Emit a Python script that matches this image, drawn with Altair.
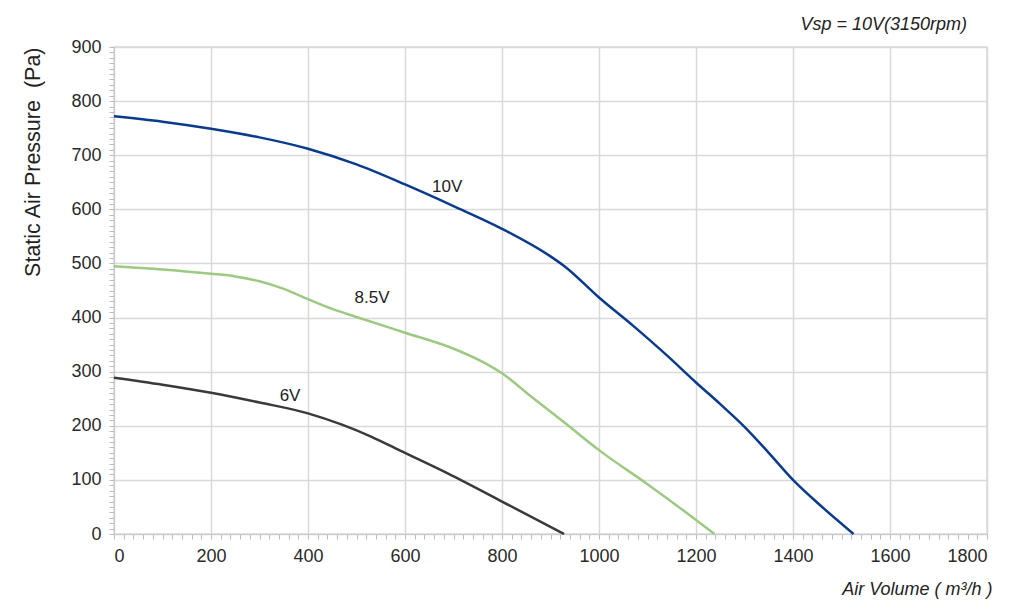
import altair as alt
import pandas as pd

# Series data (Air Volume m3/h, Static Pressure Pa)
v10_x = [0, 100, 200, 300, 400, 500, 600, 700, 800, 900, 930, 1000, 1070, 1140, 1200, 1250, 1300, 1350, 1400, 1460, 1525]
v10_y = [772, 762, 749, 733, 712, 683, 646, 606, 564, 513, 494, 437, 385, 330, 280, 240, 198, 150, 100, 50, 0]

v85_x = [0, 100, 200, 250, 300, 350, 400, 450, 500, 600, 690, 760, 800, 860, 930, 1000, 1100, 1200, 1238]
v85_y = [495, 489, 481, 476, 467, 453, 434, 416, 401, 372, 346, 318, 297, 254, 205, 155, 92, 26, 0]

v6_x = [0, 100, 200, 300, 400, 470, 530, 590, 690, 800, 928]
v6_y = [289, 276, 261, 243, 223, 202, 180, 154, 111, 60, 0]

series_names = ["10V", "8.5V", "6V"]
series_colors = ["#0b3b8c", "#9dc983", "#3a3a3a"]

label_text = ["10V", "8.5V", "6V"]
label_x = [687, 532, 363]
label_y = [641, 436, 255]

x_tick_values = list(range(0, 1801, 20))
y_tick_values = list(range(0, 901, 10))

rows = []
for name, xs, ys in [("10V", v10_x, v10_y), ("8.5V", v85_x, v85_y), ("6V", v6_x, v6_y)]:
    for i, (x, y) in enumerate(zip(xs, ys)):
        rows.append({"series": name, "flow": x, "pressure": y, "order": i})
df = pd.DataFrame(rows)
labels_df = pd.DataFrame({"text": label_text, "flow": label_x, "pressure": label_y})

FONT = "Liberation Sans"
GRID = "#d9d9d9"

x_scale = alt.Scale(domain=[0, 1800], nice=False)
y_scale = alt.Scale(domain=[0, 900], nice=False)

x_axis = alt.Axis(
    title="Air Volume ( m³/h )",
    values=x_tick_values,
    tickCount=500,
    format="d",
    labelExpr="datum.value % 200 === 0 ? datum.label : ''",
    labelOverlap=False,
    labelFontSize=18,
    labelFont=FONT,
    labelColor="#2a2a2a",
    labelPadding=8,
    tickSize=5,
    tickColor="#bbbbbb",
    domainColor="#cccccc",
    grid=True,
    gridColor=GRID,
    gridWidth=1.5,
    gridOpacity={"condition": {"test": "datum.value % 200 === 0", "value": 1}, "value": 0},
    titleFont=FONT,
    titleFontSize=18,
    titleFontStyle="italic",
    titleFontWeight="normal",
    titleColor="#222222",
    titleAlign="right",
    titleX=878,
    titlePadding=15,
)

y_axis = alt.Axis(
    title="Static Air Pressure\u00a0\u00a0(Pa)",
    values=y_tick_values,
    tickCount=500,
    format="d",
    labelExpr="datum.value % 100 === 0 ? datum.label : ''",
    labelOverlap=False,
    labelFontSize=18,
    labelFont=FONT,
    labelColor="#2a2a2a",
    labelPadding=8,
    tickSize=5,
    tickColor="#bbbbbb",
    domainColor="#cccccc",
    grid=True,
    gridColor=GRID,
    gridWidth=1.5,
    gridOpacity={"condition": {"test": "datum.value % 100 === 0", "value": 1}, "value": 0},
    titleFont=FONT,
    titleFontSize=21.5,
    titleFontWeight="normal",
    titleColor="#222222",
    titleAnchor="end",
    titlePadding=26,
)

lines = alt.Chart(df).mark_line(strokeWidth=2.5, interpolate="monotone").encode(
    x=alt.X("flow:Q", scale=x_scale, axis=x_axis),
    y=alt.Y("pressure:Q", scale=y_scale, axis=y_axis),
    color=alt.Color("series:N", scale=alt.Scale(domain=series_names, range=series_colors), legend=None),
    order="order:Q",
)

texts = alt.Chart(labels_df).mark_text(font=FONT, fontSize=17, color="#222222").encode(
    x=alt.X("flow:Q", scale=x_scale),
    y=alt.Y("pressure:Q", scale=y_scale),
    text="text:N",
)

chart = alt.layer(lines, texts).properties(
    width=873,
    height=487,
    padding={"left": 14, "top": 8, "right": 5, "bottom": 5},
    title=alt.TitleParams(
        "Vsp = 10V(3150rpm)",
        anchor="end",
        font=FONT,
        fontSize=18,
        fontStyle="italic",
        fontWeight="normal",
        color="#222222",
        dx=-25,
        offset=4,
    ),
).configure_view(stroke=GRID, strokeWidth=1.5)

chart.save("out.html", embed_options={"renderer": "svg", "actions": False})
